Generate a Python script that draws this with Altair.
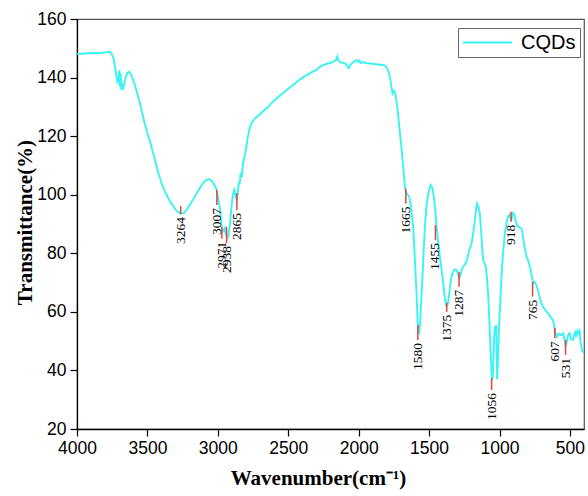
import altair as alt
import pandas as pd

# ---- spectrum ----
wavenumber = [
    4000, 3950, 3900, 3850, 3800, 3770, 3755, 3740, 3725, 3712, 3705, 3700, 3695, 3690, 3685, 3678,
    3670, 3660, 3645, 3630, 3615, 3600, 3580, 3560, 3540, 3520, 3500, 3480, 3450, 3420, 3400, 3370,
    3340, 3310, 3290, 3264, 3240, 3220, 3200, 3173, 3150, 3120, 3090, 3067, 3050, 3035, 3020, 3007,
    2995, 2984, 2975, 2971, 2965, 2958, 2950, 2945, 2938, 2930, 2925, 2915, 2905, 2895, 2884, 2875,
    2865, 2858, 2850, 2845, 2838, 2830, 2822, 2810, 2800, 2790, 2775, 2760, 2740, 2720, 2700, 2680,
    2653, 2620, 2580, 2535, 2500, 2466, 2440, 2416, 2380, 2345, 2320, 2300, 2280, 2251, 2220, 2200,
    2175, 2160, 2152, 2145, 2130, 2110, 2090, 2080, 2069, 2060, 2045, 2030, 2014, 2005, 1995, 1985,
    1960, 1940, 1920, 1880, 1850, 1826, 1810, 1797, 1785, 1778, 1768, 1759, 1750, 1743, 1735, 1726,
    1716, 1707, 1697, 1688, 1680, 1672, 1665, 1655, 1641, 1630, 1620, 1613, 1605, 1597, 1589, 1582,
    1576, 1570, 1564, 1558, 1553, 1545, 1538, 1530, 1520, 1506, 1495, 1487, 1478, 1466, 1455, 1448,
    1442, 1430, 1420, 1411, 1400, 1390, 1380, 1376, 1368, 1360, 1350, 1340, 1329, 1318, 1305, 1295,
    1287, 1280, 1270, 1258, 1245, 1235, 1225, 1211, 1200, 1187, 1175, 1165, 1159, 1150, 1140, 1130,
    1122, 1116, 1105, 1097, 1088, 1081, 1072, 1066, 1062, 1058, 1054, 1048, 1043, 1038, 1033, 1028,
    1024, 1020, 1017, 1012, 1007, 1003, 996, 986, 975, 962, 950, 939, 930, 922, 918, 912,
    903, 895, 885, 875, 868, 855, 844, 835, 825, 815, 809, 800, 790, 780, 770, 765,
    758, 750, 739, 728, 715, 703, 691, 680, 668, 655, 645, 635, 620, 612, 607, 600,
    592, 585, 575, 562, 549, 540, 531, 525, 518, 510, 502, 495, 488, 478, 470, 462,
    455, 447, 440, 432, 425, 418, 410, 405,
]
transmittance = [
    148.0, 148.2, 148.4, 148.3, 148.6, 148.8, 148.2, 146.5, 142.0, 138.5, 139.0, 142.5, 137.0, 141.5, 135.8, 137.5,
    136.5, 139.0, 141.5, 142.0, 141.0, 139.0, 136.0, 132.5, 128.5, 124.5, 121.0, 118.0, 112.5, 107.0, 104.0, 100.5,
    97.8, 95.6, 94.3, 93.5, 93.8, 95.0, 96.5, 98.5, 100.5, 103.0, 104.8, 105.3, 105.0, 104.3, 103.0, 101.5,
    98.0, 94.8, 90.0, 88.5, 88.0, 87.5, 88.5, 87.0, 86.0, 85.5, 86.0, 89.5, 95.0, 99.5, 101.6, 100.0,
    98.0, 100.5, 104.5, 103.5, 107.5, 106.0, 110.5, 113.0, 115.5, 119.0, 122.5, 124.5, 125.8, 126.8, 127.5, 128.5,
    129.5, 131.2, 133.0, 134.8, 136.2, 137.5, 138.5, 139.4, 140.5, 141.5, 142.2, 142.5, 143.5, 144.3, 144.8, 145.0,
    145.5, 146.2, 147.2, 145.8, 145.2, 145.0, 144.6, 143.8, 143.2, 144.3, 145.0, 145.6, 146.0, 145.3, 145.8, 145.0,
    145.2, 144.9, 144.8, 144.6, 144.4, 144.3, 143.9, 143.1, 141.5, 140.3, 137.0, 134.6, 135.5, 135.2, 133.0, 130.0,
    125.5, 121.0, 116.5, 111.8, 107.5, 102.7, 101.0, 100.2, 99.3, 96.5, 92.0, 89.0, 82.0, 74.0, 66.4, 57.0,
    53.0, 52.7, 56.0, 62.0, 66.4, 74.0, 81.5, 89.0, 95.5, 100.5, 102.5, 103.3, 102.5, 99.3, 94.0, 89.5,
    86.8, 81.5, 77.5, 74.3, 70.0, 65.5, 62.5, 61.8, 62.5, 65.0, 69.0, 72.5, 73.7, 74.5, 74.3, 73.0,
    71.5, 72.0, 74.0, 75.4, 76.3, 77.0, 79.0, 81.7, 83.0, 86.8, 91.5, 95.5, 97.0, 96.0, 93.6, 87.0,
    81.0, 77.7, 76.5, 75.4, 71.0, 66.3, 57.0, 50.0, 45.0, 40.5, 36.8, 37.5, 44.0, 51.0, 55.0, 53.5,
    55.5, 45.0, 37.0, 42.0, 50.0, 55.0, 62.0, 72.0, 80.0, 86.8, 90.5, 92.5, 93.2, 92.0, 91.0, 92.2,
    93.8, 93.2, 91.0, 89.5, 89.0, 88.8, 88.5, 86.5, 83.0, 80.5, 78.8, 78.0, 76.5, 74.5, 72.0, 70.5,
    69.8, 70.2, 69.2, 67.5, 65.0, 63.0, 61.8, 61.0, 60.3, 59.5, 59.0, 58.0, 57.2, 55.5, 53.5, 52.7,
    51.5, 52.0, 52.5, 52.0, 52.7, 51.0, 48.5, 49.0, 51.0, 52.5, 52.7, 51.0, 50.5, 50.4, 52.0, 53.0,
    51.5, 53.5, 52.7, 53.5, 50.0, 48.1, 46.5, 46.0,
]

# ---- peak annotations ----
peak_wn = [3264, 3007, 2971, 2938, 2865, 1665, 1580, 1455, 1375, 1287, 1056, 918, 765, 607, 531]
peak_top = [96.1, 101.6, 89.0, 89.0, 100.6, 102.0, 55.5, 89.6, 63.1, 73.7, 37.4, 94.2, 70.3, 54.5, 50.4]
peak_bottom = [93.4, 96.5, 85.0, 83.5, 94.8, 97.0, 50.4, 84.5, 60.0, 68.6, 33.3, 90.8, 65.2, 51.0, 45.3]

x_ticks = [4000, 3750, 3500, 3250, 3000, 2750, 2500, 2250, 2000, 1750, 1500, 1250, 1000, 750, 500]
y_ticks = [20, 30, 40, 50, 60, 70, 80, 90, 100, 110, 120, 130, 140, 150, 160]

series_name = ["CQDs"]

CYAN = "#38F4F4"
RED = "#E8453C"

spec = pd.DataFrame({"wn": wavenumber, "T": transmittance, "series": series_name[0]})
peaks = pd.DataFrame({
    "wn": peak_wn,
    "top": peak_top,
    "bot": peak_bottom,
    "label": [str(p) for p in peak_wn],
})

xscale = alt.Scale(domain=[4000, 400], nice=False, zero=False)
yscale = alt.Scale(domain=[20, 160], nice=False, zero=False)

common_axis = dict(
    grid=False,
    domainColor="black",
    domainWidth=1.3,
    tickColor="black",
    tickWidth=1.2,
    labelFont="Liberation Sans",
    labelFontSize=17.5,
    labelColor="black",
    titleFont="Liberation Serif",
    titleFontWeight="bold",
    titleFontSize=21,
    titleColor="black",
    labelOverlap=False,
    labelFlush=False,
)

xaxis = alt.Axis(
    values=x_ticks,
    format="d",
    labelExpr="datum.value % 500 == 0 ? datum.label : ''",
    tickSize={"condition": {"test": "datum.value % 500 == 0", "value": 7}, "value": 4},
    labelPadding=3,
    titleX=241,
    titleY=49,
    titleBaseline="middle",
    titleAlign="center",
    **common_axis,
)
yaxis = alt.Axis(
    values=y_ticks,
    format="d",
    labelExpr="datum.value % 20 == 0 ? datum.label : ''",
    tickSize={"condition": {"test": "datum.value % 20 == 0", "value": 7}, "value": 4},
    labelPadding=4,
    titleX=-52,
    titleY=203,
    titleAngle=270,
    titleBaseline="middle",
    titleAlign="center",
    **common_axis,
)

line = alt.Chart(spec).mark_line(strokeWidth=1.9).encode(
    x=alt.X("wn:Q", scale=xscale, axis=xaxis, title="Wavenumber(cm⁻¹)"),
    y=alt.Y("T:Q", scale=yscale, axis=yaxis, title="Transmittance(%)"),
    color=alt.Color(
        "series:N",
        scale=alt.Scale(domain=series_name, range=[CYAN]),
        legend=alt.Legend(
            title=None,
            orient="none",
            legendX=381,
            legendY=9,
            symbolType="stroke",
            symbolSize=2401,
            symbolStrokeWidth=2,
            clipHeight=21,
            labelFont="Liberation Sans",
            labelFontSize=20,
            labelColor="black",
            labelOffset=8,
            padding=4,
            strokeColor="#666666",
            fillColor="white",
            cornerRadius=0,
        ),
    ),
)

ticks = alt.Chart(peaks).mark_rule(color=RED, strokeWidth=1.5).encode(
    x=alt.X("wn:Q", scale=xscale),
    y=alt.Y("top:Q", scale=yscale),
    y2="bot:Q",
)

labels = alt.Chart(peaks).mark_text(
    angle=270,
    align="right",
    baseline="middle",
    dx=-3,
    font="Liberation Serif",
    fontSize=13.5,
    color="black",
).encode(
    x=alt.X("wn:Q", scale=xscale),
    y=alt.Y("bot:Q", scale=yscale),
    text="label:N",
)

chart = alt.layer(line, ticks, labels).properties(
    width=507,
    height=410,
    autosize=alt.AutoSizeParams(type="none"),
    padding={"left": 77, "top": 19, "right": 4, "bottom": 67},
    background="white",
).configure_view(stroke="#555555", strokeWidth=1.2)

chart.save("out.html", embed_options={"renderer": "svg", "actions": False})
